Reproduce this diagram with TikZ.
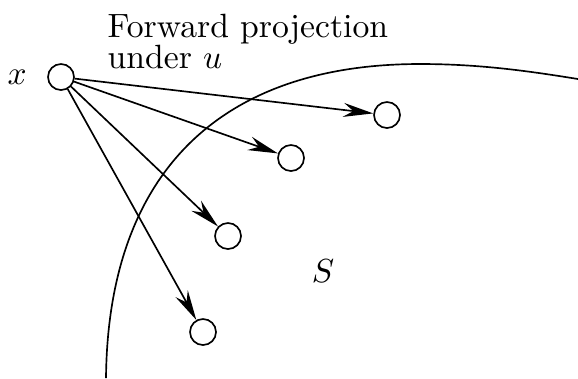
\documentclass[tikz,border=0pt]{standalone}
\usepackage{amsmath}
\usepackage{tikz}
\usetikzlibrary{arrows.meta, positioning}

\begin{document}
\begin{tikzpicture}[
    x=0.3pt, y=-0.3pt,
    >={Stealth[length=9pt, width=4.2pt, inset=3pt]},
    pt/.style={circle, draw=black, line width=0.5pt, fill=white, minimum size=7.8pt, inner sep=0pt},
    proj/.style={draw=black, line width=0.5pt, ->}
]
    \useasboundingbox (0,0) rectangle (578,378);

    % Boundary of S
    \draw[line width=0.5pt] (106,378) .. controls (108,175) and (218,64) .. (420,64)
        .. controls (480,64) and (530,71) .. (590,81);
    \node (S) at (323,271) {$S$};

    % Start state and its label
    \node[pt, label={[label distance=2.6pt]left:$x$}] (X) at (61,77) {};
    \node[anchor=north west, inner sep=0pt, align=left, font=\fontsize{10.1}{9.3}\selectfont] (title) at (107,13) {Forward projection\\under $u$};

    % Projected states
    \node[pt] (P1) at (387,115) {};
    \node[pt] (P2) at (291,158) {};
    \node[pt] (P3) at (228,236) {};
    \node[pt] (P4) at (203,332) {};

    % Forward projections
    \draw[proj] (X) -- (P1);
    \draw[proj] (X) -- (P2);
    \draw[proj] (X) -- (P3);
    \draw[proj] (X) -- (P4);
\end{tikzpicture}
\end{document}
